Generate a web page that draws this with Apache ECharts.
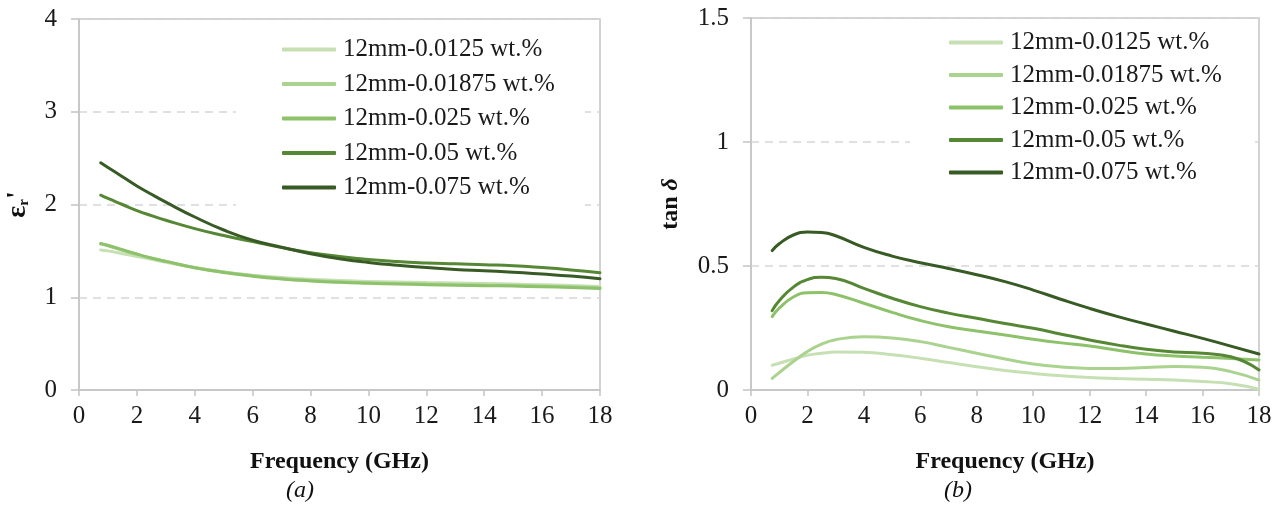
<!DOCTYPE html>
<html>
<head>
<meta charset="utf-8">
<script src="https://cdn.jsdelivr.net/npm/echarts@6/dist/echarts.min.js"></script>
<style>html,body{margin:0;padding:0;background:#fff}#c{width:1287px;height:531px}</style>
</head>
<body>
<div id="c"></div>
<script>
var seriesNames = ['12mm-0.0125 wt.%','12mm-0.01875 wt.%','12mm-0.025 wt.%','12mm-0.05 wt.%','12mm-0.075 wt.%'];
var seriesColors = ['#c6e0b4','#aad38f','#8dc26b','#558734','#385a24'];
var freq = [0.75,1,1.5,2,2.5,3,4,5,6,7,8,9,10,11,12,13,14,15,16,17,18];
var xTicks = [0,2,4,6,8,10,12,14,16,18];

// (a) real permittivity
var epsA1 = [1.51,1.50,1.47,1.44,1.41,1.378,1.318,1.272,1.237,1.212,1.193,1.18,1.171,1.164,1.158,1.153,1.148,1.142,1.135,1.126,1.115];
var epsA2 = [1.575,1.555,1.507,1.462,1.422,1.387,1.322,1.272,1.233,1.203,1.182,1.167,1.156,1.148,1.142,1.137,1.132,1.127,1.12,1.112,1.102];
var epsA3 = [1.58,1.56,1.512,1.466,1.424,1.387,1.319,1.267,1.227,1.197,1.176,1.161,1.151,1.143,1.136,1.13,1.125,1.12,1.113,1.105,1.095];
var epsA4 = [2.10,2.065,2.0,1.935,1.88,1.83,1.74,1.665,1.60,1.535,1.48,1.44,1.408,1.385,1.37,1.36,1.35,1.34,1.32,1.295,1.265];
var epsA5 = [2.45,2.40,2.30,2.20,2.11,2.025,1.865,1.725,1.615,1.54,1.47,1.415,1.375,1.345,1.32,1.30,1.285,1.27,1.25,1.228,1.20];

// (b) loss tangent
var tanB1 = [0.10,0.108,0.125,0.14,0.148,0.153,0.152,0.142,0.128,0.111,0.094,0.079,0.067,0.057,0.05,0.046,0.043,0.04,0.034,0.025,0.003];
var tanB2 = [0.047,0.07,0.115,0.155,0.185,0.203,0.215,0.21,0.195,0.172,0.148,0.125,0.105,0.093,0.087,0.087,0.091,0.095,0.092,0.074,0.04];
var tanB3 = [0.296,0.33,0.375,0.392,0.393,0.385,0.35,0.313,0.28,0.255,0.238,0.222,0.205,0.19,0.177,0.16,0.145,0.137,0.132,0.127,0.121];
var tanB4 = [0.32,0.36,0.415,0.445,0.455,0.45,0.41,0.37,0.336,0.31,0.289,0.268,0.249,0.225,0.202,0.181,0.164,0.153,0.148,0.134,0.081];
var tanB5 = [0.562,0.59,0.625,0.637,0.635,0.622,0.575,0.54,0.513,0.49,0.465,0.437,0.403,0.365,0.329,0.296,0.266,0.237,0.208,0.177,0.145];

var FONT = '"Liberation Serif", "DejaVu Serif", serif';
function pairs(v){ return freq.map(function(f,i){ return [f, v[i]]; }); }
var setsA = [epsA1,epsA2,epsA3,epsA4,epsA5];
var setsB = [tanB1,tanB2,tanB3,tanB4,tanB5];

var series = [];
setsA.forEach(function(v,i){
  series.push({name:seriesNames[i], type:'line', xAxisIndex:0, yAxisIndex:0, data:pairs(v),
    smooth:0.5, symbol:'none', lineStyle:{width:3, color:seriesColors[i], cap:'round'}, itemStyle:{color:seriesColors[i]}, z:3+i});
});
setsB.forEach(function(v,i){
  series.push({name:seriesNames[i], type:'line', xAxisIndex:1, yAxisIndex:1, data:pairs(v),
    smooth:0.5, symbol:'none', lineStyle:{width:3, color:seriesColors[i], cap:'round'}, itemStyle:{color:seriesColors[i]}, z:3+i});
});

function xAx(idx){
  return {type:'value', gridIndex:idx, min:0, max:18, interval:2,
    axisLine:{show:true, lineStyle:{color:'#c4c4c4', width:1.5}},
    axisTick:{show:true, length:6, lineStyle:{color:'#c4c4c4', width:1.5}},
    axisLabel:{color:'#1a1a1a', fontFamily:FONT, fontSize:25, margin:14},
    splitLine:{show:false},
    name:'Frequency (GHz)', nameLocation:'middle', nameGap:60,
    nameTextStyle:{color:'#111', fontFamily:FONT, fontSize:24, fontWeight:'bold'}};
}
function yAx(idx, max, interval, name, rich){
  return {type:'value', gridIndex:idx, min:0, max:max, interval:interval,
    axisLine:{show:true, lineStyle:{color:'#c4c4c4', width:1.5}},
    axisTick:{show:true, length:8, lineStyle:{color:'#c4c4c4', width:1.5}},
    axisLabel:{color:'#1a1a1a', fontFamily:FONT, fontSize:25, margin:22},
    splitLine:{show:true, lineStyle:{color:'#d6d6d6', width:1.5, type:[8,6]}},
    name:name, nameLocation:'middle', nameRotate:90,
    nameGap: idx===0 ? 47 : 68,
    nameTextStyle:{color:'#111', fontFamily:FONT, fontSize:24, fontWeight:'bold', rich:rich}};
}

var option = {
  animation:false,
  backgroundColor:'#fff',
  grid:[
    {left:79, right:687, top:19, bottom:141, show:true, borderColor:'#c4c4c4', borderWidth:1.5},
    {left:751, right:28, top:18, bottom:141, show:true, borderColor:'#c4c4c4', borderWidth:1.5}
  ],
  xAxis:[xAx(0), xAx(1)],
  yAxis:[
    yAx(0, 4, 1, '{e|ε}{s|r}{e|\'}', {
      e:{fontFamily:FONT, fontSize:28, fontWeight:'bold', color:'#111'},
      s:{fontFamily:FONT, fontSize:15, fontWeight:'bold', color:'#111', padding:[12,0,0,0]}}),
    yAx(1, 1.5, 0.5, '{b|tan }{i|δ}', {
      b:{fontFamily:FONT, fontSize:24, fontWeight:'bold', color:'#111'},
      i:{fontFamily:FONT, fontSize:24, fontWeight:'bold', fontStyle:'italic', color:'#111'}})
  ],
  legend:[
    {data:seriesNames, orient:'vertical', left:236, top:27, itemWidth:54, itemHeight:4, itemGap:9.5,
     padding:[10,30,8,46], backgroundColor:'#fff', icon:'roundRect',
     textStyle:{fontFamily:FONT, fontSize:25, color:'#1a1a1a', lineHeight:25, padding:[0,0,0,2]}},
    {data:seriesNames, orient:'vertical', left:910, top:22, itemWidth:54, itemHeight:4, itemGap:7.5,
     padding:[8,30,8,39], backgroundColor:'#fff', icon:'roundRect',
     textStyle:{fontFamily:FONT, fontSize:25, color:'#1a1a1a', lineHeight:25, padding:[0,0,0,2]}}
  ],
  title:[
    {text:'(a)', left:295, top:474, textAlign:'center', textStyle:{fontFamily:FONT, fontSize:24, fontStyle:'italic', fontWeight:'normal', color:'#111'}},
    {text:'(b)', left:953, top:474, textAlign:'center', textStyle:{fontFamily:FONT, fontSize:24, fontStyle:'italic', fontWeight:'normal', color:'#111'}}
  ],
  series:series
};
var chart = echarts.init(document.getElementById('c'));
chart.setOption(option);
</script>
</body>
</html>
